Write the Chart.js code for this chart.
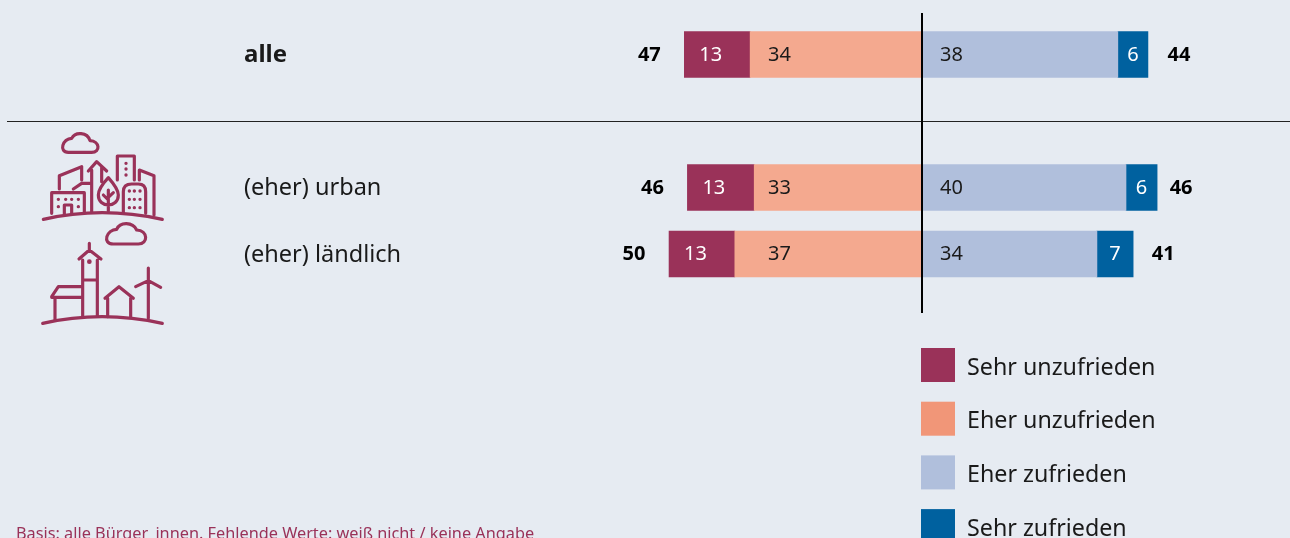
<!DOCTYPE html>
<html lang="de"><head><meta charset="utf-8">
<style>
html,body{margin:0;padding:0;background:#E6EBF2;overflow:hidden}
#wrap{position:relative;width:1290px;height:538px;overflow:hidden}
canvas{position:absolute;left:0;top:0}
svg{position:absolute;left:0;top:110px;pointer-events:none}
</style>
<script src="https://cdn.jsdelivr.net/npm/chart.js@4"></script>
</head><body>
<div id="wrap">
<canvas id="c" width="1290" height="538"></canvas>
<svg width="420" height="230" viewBox="0 0 1260 690" fill="none" stroke="#9A3259" stroke-width="9.5" stroke-linecap="round" stroke-linejoin="round">
<path d="M130 328Q305 288 487 328"/>
<path d="M205 127H275C302 127 300 93 270 92C262 65 225 65 215 85C188 85 175 127 205 127Z"/>
<path d="M155 310V248H253V305M193 312V285H215V312M178 237V197L245 170V210M220 237L245 220H275M275 305V180M265 183L290 155L320 183M305 172V215"/>
<path d="M352 210V138H403V210M325 203C300 230 295 245 295 255C295 275 310 285 325 285C340 285 355 275 355 255C355 240 340 220 325 203ZM325 240V303M325 270L310 255M325 262L340 248"/>
<path d="M370 310V245Q370 222 395 222H415Q437 222 437 245V310M418 210V180L462 197V315"/>
<g stroke-width="10"><path d="M175 268h.1M197 268h.1M215 268h.1M235 268h.1M175 290h.1M235 290h.1M378 160h.1M378 177h.1M378 195h.1M388 243h.1M403 243h.1M420 243h.1M388 268h.1M403 268h.1M420 268h.1M388 293h.1M403 293h.1M420 293h.1"/></g>
<path d="M128 640Q305 600 487 640"/>
<path d="M340 402H415C445 402 445 362 410 360C398 335 360 335 350 358C320 358 305 402 340 402Z"/>
<path d="M248 620V450M292 618V450M237 447L268 420L303 447M268 400V420M248 510H292M155 560L175 530H248M155 562H248M165 562V630M315 565L357 530L400 565M323 565V620M392 565V620M445 474V625M407 530L445 512L482 532"/>
<path d="M268 455h.1" stroke-width="14"/>
</svg>
</div>
<script>
const categories = ['alle', '', '(eher) urban', '(eher) ländlich'];
// Values; the printed labels are these values rounded.
const sehrUnzufrieden = [12.9, null, 13.1, 12.9];
const eherUnzufrieden = [33.7, null, 32.9, 36.7];
const eherZufrieden = [38.4, null, 40.0, 34.3];
const sehrZufrieden = [5.9, null, 6.1, 7.1];
const legendLabels = ['Sehr unzufrieden', 'Eher unzufrieden', 'Eher zufrieden', 'Sehr zufrieden'];
const footnote = 'Basis: alle Bürger_innen. Fehlende Werte: weiß nicht / keine Angabe';

const BG_ORANGE = '#F4A98F', LEG_ORANGE = '#F19678', PURPLE = '#9A3259', LIGHT = '#B0BFDC', BLUE = '#00619F', INK = '#1A1A1A';
const FONT = '"Noto Sans", sans-serif';
const neg = a => a.map(v => v === null ? null : -v);
const legendSwatches = [PURPLE, LEG_ORANGE, LIGHT, BLUE];
const rightGap = [31, 0, 24, 30];

const overlay = {
  id: 'overlay',
  afterDatasetsDraw(chart) {
    const { ctx, scales: { x, y } } = chart;
    const zero = x.getPixelForValue(0);
    ctx.save();
    // divider and zero line
    const ruleY = Math.round(y.getPixelForValue(1));
    ctx.fillStyle = '#222';
    ctx.fillRect(7, ruleY, 1283, 1);
    ctx.strokeStyle = '#000'; ctx.lineWidth = 2;
    ctx.beginPath(); ctx.moveTo(zero, 13); ctx.lineTo(zero, 313); ctx.stroke();
    // value labels
    ctx.textBaseline = 'middle';
    categories.forEach((c, i) => {
      if (sehrUnzufrieden[i] === null) return;
      const cy = y.getPixelForValue(i) + 0.5;
      const su = sehrUnzufrieden[i], eu = eherUnzufrieden[i], ez = eherZufrieden[i], sz = sehrZufrieden[i];
      const left = x.getPixelForValue(-(su + eu)), right = x.getPixelForValue(ez + sz);
      ctx.font = '20px ' + FONT;
      ctx.fillStyle = '#fff'; ctx.textAlign = 'left';
      ctx.fillText(String(Math.round(su)), left + 15, cy);
      ctx.fillStyle = INK;
      ctx.fillText(String(Math.round(eu)), zero - 154, cy);
      ctx.fillText(String(Math.round(ez)), zero + 18, cy);
      ctx.fillStyle = '#fff'; ctx.textAlign = 'center';
      ctx.fillText(String(Math.round(sz)), (x.getPixelForValue(ez) + right) / 2, cy);
      ctx.font = 'bold 20px ' + FONT;
      ctx.fillStyle = '#000';
      ctx.fillText(String(Math.round(su + eu)), left - 35, cy);
      ctx.fillText(String(Math.round(ez + sz)), right + rightGap[i], cy);
    });
    // legend
    ctx.textAlign = 'left';
    legendLabels.forEach((t, i) => {
      const top = 348 + i * 53.7;
      ctx.fillStyle = legendSwatches[i];
      ctx.fillRect(921, top, 34, 34);
      ctx.fillStyle = INK;
      ctx.font = '23.25px ' + FONT;
      ctx.fillText(t, 967, top + 20);
    });
    // footnote
    ctx.fillStyle = PURPLE;
    ctx.font = '16.3px ' + FONT;
    ctx.textBaseline = 'alphabetic';
    ctx.fillText(footnote, 16, 539);
    ctx.restore();
  }
};

new Chart(document.getElementById('c'), {
  type: 'bar',
  data: {
    labels: categories,
    datasets: [
      { label: 'Eher unzufrieden', data: neg(eherUnzufrieden), backgroundColor: BG_ORANGE },
      { label: 'Sehr unzufrieden', data: neg(sehrUnzufrieden), backgroundColor: PURPLE },
      { label: 'Eher zufrieden', data: eherZufrieden, backgroundColor: LIGHT },
      { label: 'Sehr zufrieden', data: sehrZufrieden, backgroundColor: BLUE }
    ]
  },
  plugins: [overlay],
  options: {
    indexAxis: 'y',
    responsive: false,
    animation: false,
    barThickness: 46,
    layout: { padding: { left: 244, right: 0.8, top: 21.25, bottom: 250.75 } },
    plugins: { legend: { display: false }, tooltip: { enabled: false }, title: { display: false } },
    scales: {
      x: { stacked: true, min: -60, max: 72, display: false },
      y: {
        stacked: true,
        grid: { display: false },
        border: { display: false },
        afterFit(s) { s.width = 372; },
        ticks: {
          autoSkip: false,
          crossAlign: 'far',
          labelOffset: 1,
          color: INK,
          font: ctx => ctx.index === 0 ? { family: FONT, size: 24, weight: 'bold' } : { family: FONT, size: 23.5 }
        }
      }
    }
  }
});
</script>
</body></html>
